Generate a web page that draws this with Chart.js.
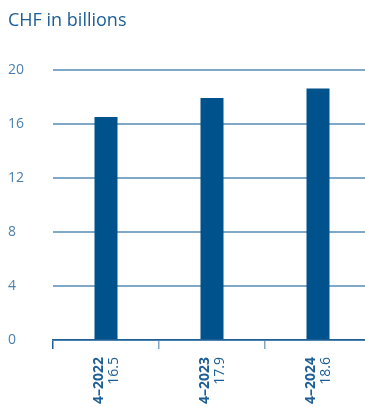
<!DOCTYPE html>
<html>
<head>
<meta charset="utf-8">
<script src="https://cdn.jsdelivr.net/npm/chart.js@4.4.1/dist/chart.umd.min.js"></script>
<style>
  html, body { margin: 0; padding: 0; background: #fff; }
  #wrap { width: 365px; height: 407px; overflow: hidden; position: relative; }
  #wrap canvas { position: absolute; left: 0; top: 0; }
</style>
</head>
<body>
<div id="wrap"><canvas id="revenue-chart" width="372" height="407"></canvas></div>
<script>
// Revenue per period, CHF billions
const periods = ['4–2022', '4–2023', '4–2024'];
const revenue = [16.5, 17.9, 18.6];
const yTicks = [0, 4, 8, 12, 16, 20];

const BAR_BLUE = '#00528c';
const TEXT_BLUE = '#1d5e96';
const TICK_BLUE = '#4d80ad';
const GRID_BLUE = '#80a7c6';

// Draws rotated category labels with the value next to them
const periodLabels = {
    id: 'periodLabels',
    afterDraw: function(chart) {
        const xs = chart.scales.x;
        const ctx = chart.ctx;
        periods.forEach((p, i) => {
            const px = xs.getPixelForValue(i);
            ctx.save();
            ctx.translate(px - 7, xs.top + 17);
            ctx.rotate(-Math.PI / 2);
            ctx.textAlign = 'right';
            ctx.textBaseline = 'middle';
            ctx.fillStyle = TEXT_BLUE;
            ctx.font = 'bold 14px "Open Sans"';
            ctx.fillText(p, 0, 0);
            ctx.font = '14px "Open Sans"';
            ctx.fillText(revenue[i].toFixed(1), 0, 15);
            ctx.restore();
        });
    }
};

new Chart(document.getElementById('revenue-chart').getContext('2d'), {
    type: 'bar',
    data: {
        labels: periods,
        datasets: [{
            data: revenue,
            backgroundColor: BAR_BLUE,
            borderWidth: 0,
            categoryPercentage: 1,
            barPercentage: 0.217
        }]
    },
    options: {
        responsive: false,
        animation: false,
        layout: { padding: { left: 8, right: 1, top: 0, bottom: 58 } },
        plugins: {
            legend: { display: false },
            tooltip: { enabled: false },
            title: {
                display: true,
                text: 'CHF in billions',
                align: 'start',
                color: TEXT_BLUE,
                font: { family: 'Open Sans', size: 18, weight: 'normal' },
                padding: { top: 10, bottom: 38 }
            }
        },
        scales: {
            x: {
                offset: true,
                grid: {
                    offset: true,
                    drawOnChartArea: false,
                    drawTicks: true,
                    tickLength: 9,
                    lineWidth: 1.5,
                    color: ctx => ctx.index === 0 ? TEXT_BLUE : GRID_BLUE
                },
                border: { display: true, color: TEXT_BLUE, width: 1.5 },
                ticks: { display: false }
            },
            y: {
                min: 0,
                max: 20,
                afterBuildTicks: scale => {
                    scale.ticks = yTicks.map(v => ({ value: v }));
                },
                afterFit: scale => { scale.width = 45; },
                grid: { drawTicks: false, lineWidth: 2, color: GRID_BLUE },
                border: { display: false },
                ticks: {
                    crossAlign: 'far',
                    padding: 0,
                    color: TICK_BLUE,
                    font: { family: 'Open Sans', size: 14 }
                }
            }
        }
    },
    plugins: [periodLabels]
});
</script>
</body>
</html>
